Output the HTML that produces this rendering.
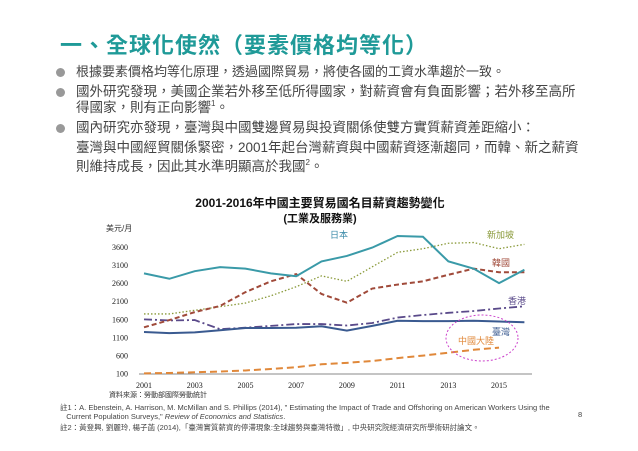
<!DOCTYPE html>
<html><head><meta charset="utf-8"><style>
body{margin:0;width:638px;height:451px;background:#fff;overflow:hidden;position:relative;font-family:"Liberation Sans","Noto Sans CJK TC",sans-serif;color:#444}
.t{position:absolute;white-space:nowrap}
.b{position:absolute;width:9px;height:9px;border-radius:50%;background:#999;left:56px}
sup{font-size:8px;line-height:0;vertical-align:6px}
</style></head><body>
<div class="t" style="left:60px;top:28px;font-size:22px;font-weight:bold;color:#1f9a98;letter-spacing:1px">一、全球化使然（要素價格均等化）</div>
<div class="b" style="top:68px"></div>
<div class="t" style="left:76px;top:63px;font-size:13px;line-height:18px">根據要素價格均等化原理，透過國際貿易，將使各國的工資水準趨於一致。</div>
<div class="b" style="top:88px"></div>
<div class="t" style="left:76px;top:84px;font-size:13.5px;line-height:16px">國外研究發現，美國企業若外移至低所得國家，對薪資會有負面影響；若外移至高所<br>得國家，則有正向影響<sup>1</sup>。</div>
<div class="b" style="top:124px"></div>
<div class="t" style="left:76px;top:118px;font-size:13.5px;line-height:19.5px">國內研究亦發現，臺灣與中國雙邊貿易與投資關係使雙方實質薪資差距縮小：<br>臺灣與中國經貿關係緊密，2001年起台灣薪資與中國薪資逐漸趨同，而韓、新之薪資<br>則維持成長，因此其水準明顯高於我國<sup>2</sup>。</div>
<svg id="c" width="638" height="451" style="position:absolute;left:0;top:0"></svg>
<div class="t" style="left:60px;top:403px;font-size:7.5px;line-height:9px">註1：A. Ebenstein, A. Harrison, M. McMillan and S. Phillips (2014), " Estimating the Impact of Trade and Offshoring on American Workers Using the<br>&nbsp;&nbsp;&nbsp;Current Population Surveys," <i>Review of Economics and Statistics</i>.</div>
<div class="t" style="left:60px;top:422px;font-size:7.5px">註2：黃登興, 劉麗玲, 楊子菡 (2014),「臺灣實質薪資的停滯現象:全球趨勢與臺灣特徵」, 中央研究院經濟研究所學術研討論文。</div>
<div class="t" style="left:578px;top:410px;font-size:7.5px">8</div>
<script>
const years=[2001,2002,2003,2004,2005,2006,2007,2008,2009,2010,2011,2012,2013,2014,2015,2016];
const yTicks=[100,600,1100,1600,2100,2600,3100,3600];
const xTicks=[2001,2003,2005,2007,2009,2011,2013,2015];
const japan=[2870,2720,2930,3040,3000,2870,2790,3200,3350,3580,3900,3880,3200,3000,2600,2970];
const singapore=[1750,1750,1850,1950,2050,2250,2500,2800,2650,3050,3450,3550,3700,3720,3550,3670];
const korea=[1380,1580,1800,1970,2350,2650,2850,2300,2060,2450,2560,2650,2830,3000,2900,2900];
const hongkong=[1600,1570,1580,1330,1370,1420,1470,1470,1430,1500,1650,1720,1780,1830,1900,1960];
const taiwan=[1250,1220,1240,1300,1360,1360,1370,1410,1290,1420,1560,1550,1550,1560,1540,1520];
const china=[110,120,140,160,190,230,280,360,400,450,530,600,680,760,820];
const svg=document.getElementById('c');const NS='http://www.w3.org/2000/svg';
const X=y=>144+(y-2001)*25.36;const Y=v=>373.7-(v-100)*0.03623;
function mk(t,a,p){const e=document.createElementNS(NS,t);for(const k in a)e.setAttribute(k,a[k]);(p||svg).appendChild(e);return e;}
function txt(s,x,y,a){const e=mk('text',Object.assign({x:x,y:y},a));e.textContent=s;return e;}
let e;
e=txt('2001-2016年中國主要貿易國名目薪資趨勢變化',320,207,{'text-anchor':'middle','font-size':12,'font-weight':'bold',fill:'#111'});

e=txt('(工業及服務業)',320,222,{'text-anchor':'middle','font-size':11,'font-weight':'bold',fill:'#111'});

e=txt('美元/月',106,231,{'font-size':8,fill:'#333'});

e=mk('line',{x1:139,x2:532,y1:374,y2:374,stroke:'#888','stroke-width':1});

yTicks.forEach(v=>{const t=txt(v,128,Y(v)+3,{'text-anchor':'end','font-size':8,'font-family':'Liberation Serif',fill:'#222'});
});
xTicks.forEach(v=>{const t=txt(v,X(v),388,{'text-anchor':'middle','font-size':8,'font-family':'Liberation Serif',fill:'#222'});
});
function line(d,color,w,dash,name){const pts=d.map((v,i)=>X(years[i])+','+Y(v)).join(' ');
const p=mk('polyline',{points:pts,fill:'none',stroke:color,'stroke-width':w,'stroke-dasharray':dash});
}
line(singapore,'#8a9a3a',1.3,'1.5 2','line-singapore');
line(china,'#e0883a',2,'7 4','line-china');
line(hongkong,'#5a4a8a',1.8,'8 3 2 3','line-hongkong');
line(taiwan,'#3a5a90',2,'','line-taiwan');
line(korea,'#a04a3a',2,'5 3','line-korea');
line(japan,'#3a9aa8',2,'','line-japan');
e=mk('ellipse',{cx:482,cy:338,rx:36,ry:23,fill:'none',stroke:'#cc44cc','stroke-width':1,'stroke-dasharray':'2 2'});

[['日本',330,238,'#3a8aa8','label-japan'],['新加坡',487,238,'#8a9a3a','label-singapore'],['韓國',492,266,'#a04a3a','label-korea'],['香港',508,304,'#5a4a8a','label-hongkong'],['臺灣',492,335,'#3a5a90','label-taiwan'],['中國大陸',458,344,'#e0883a','label-china']].forEach(a=>{
const t=txt(a[0],a[1],a[2],{'font-size':9,fill:a[3]});});
e=txt('資料來源：勞動部國際勞動統計',109,397,{'font-size':7,fill:'#333'});

</script>
</body></html>
